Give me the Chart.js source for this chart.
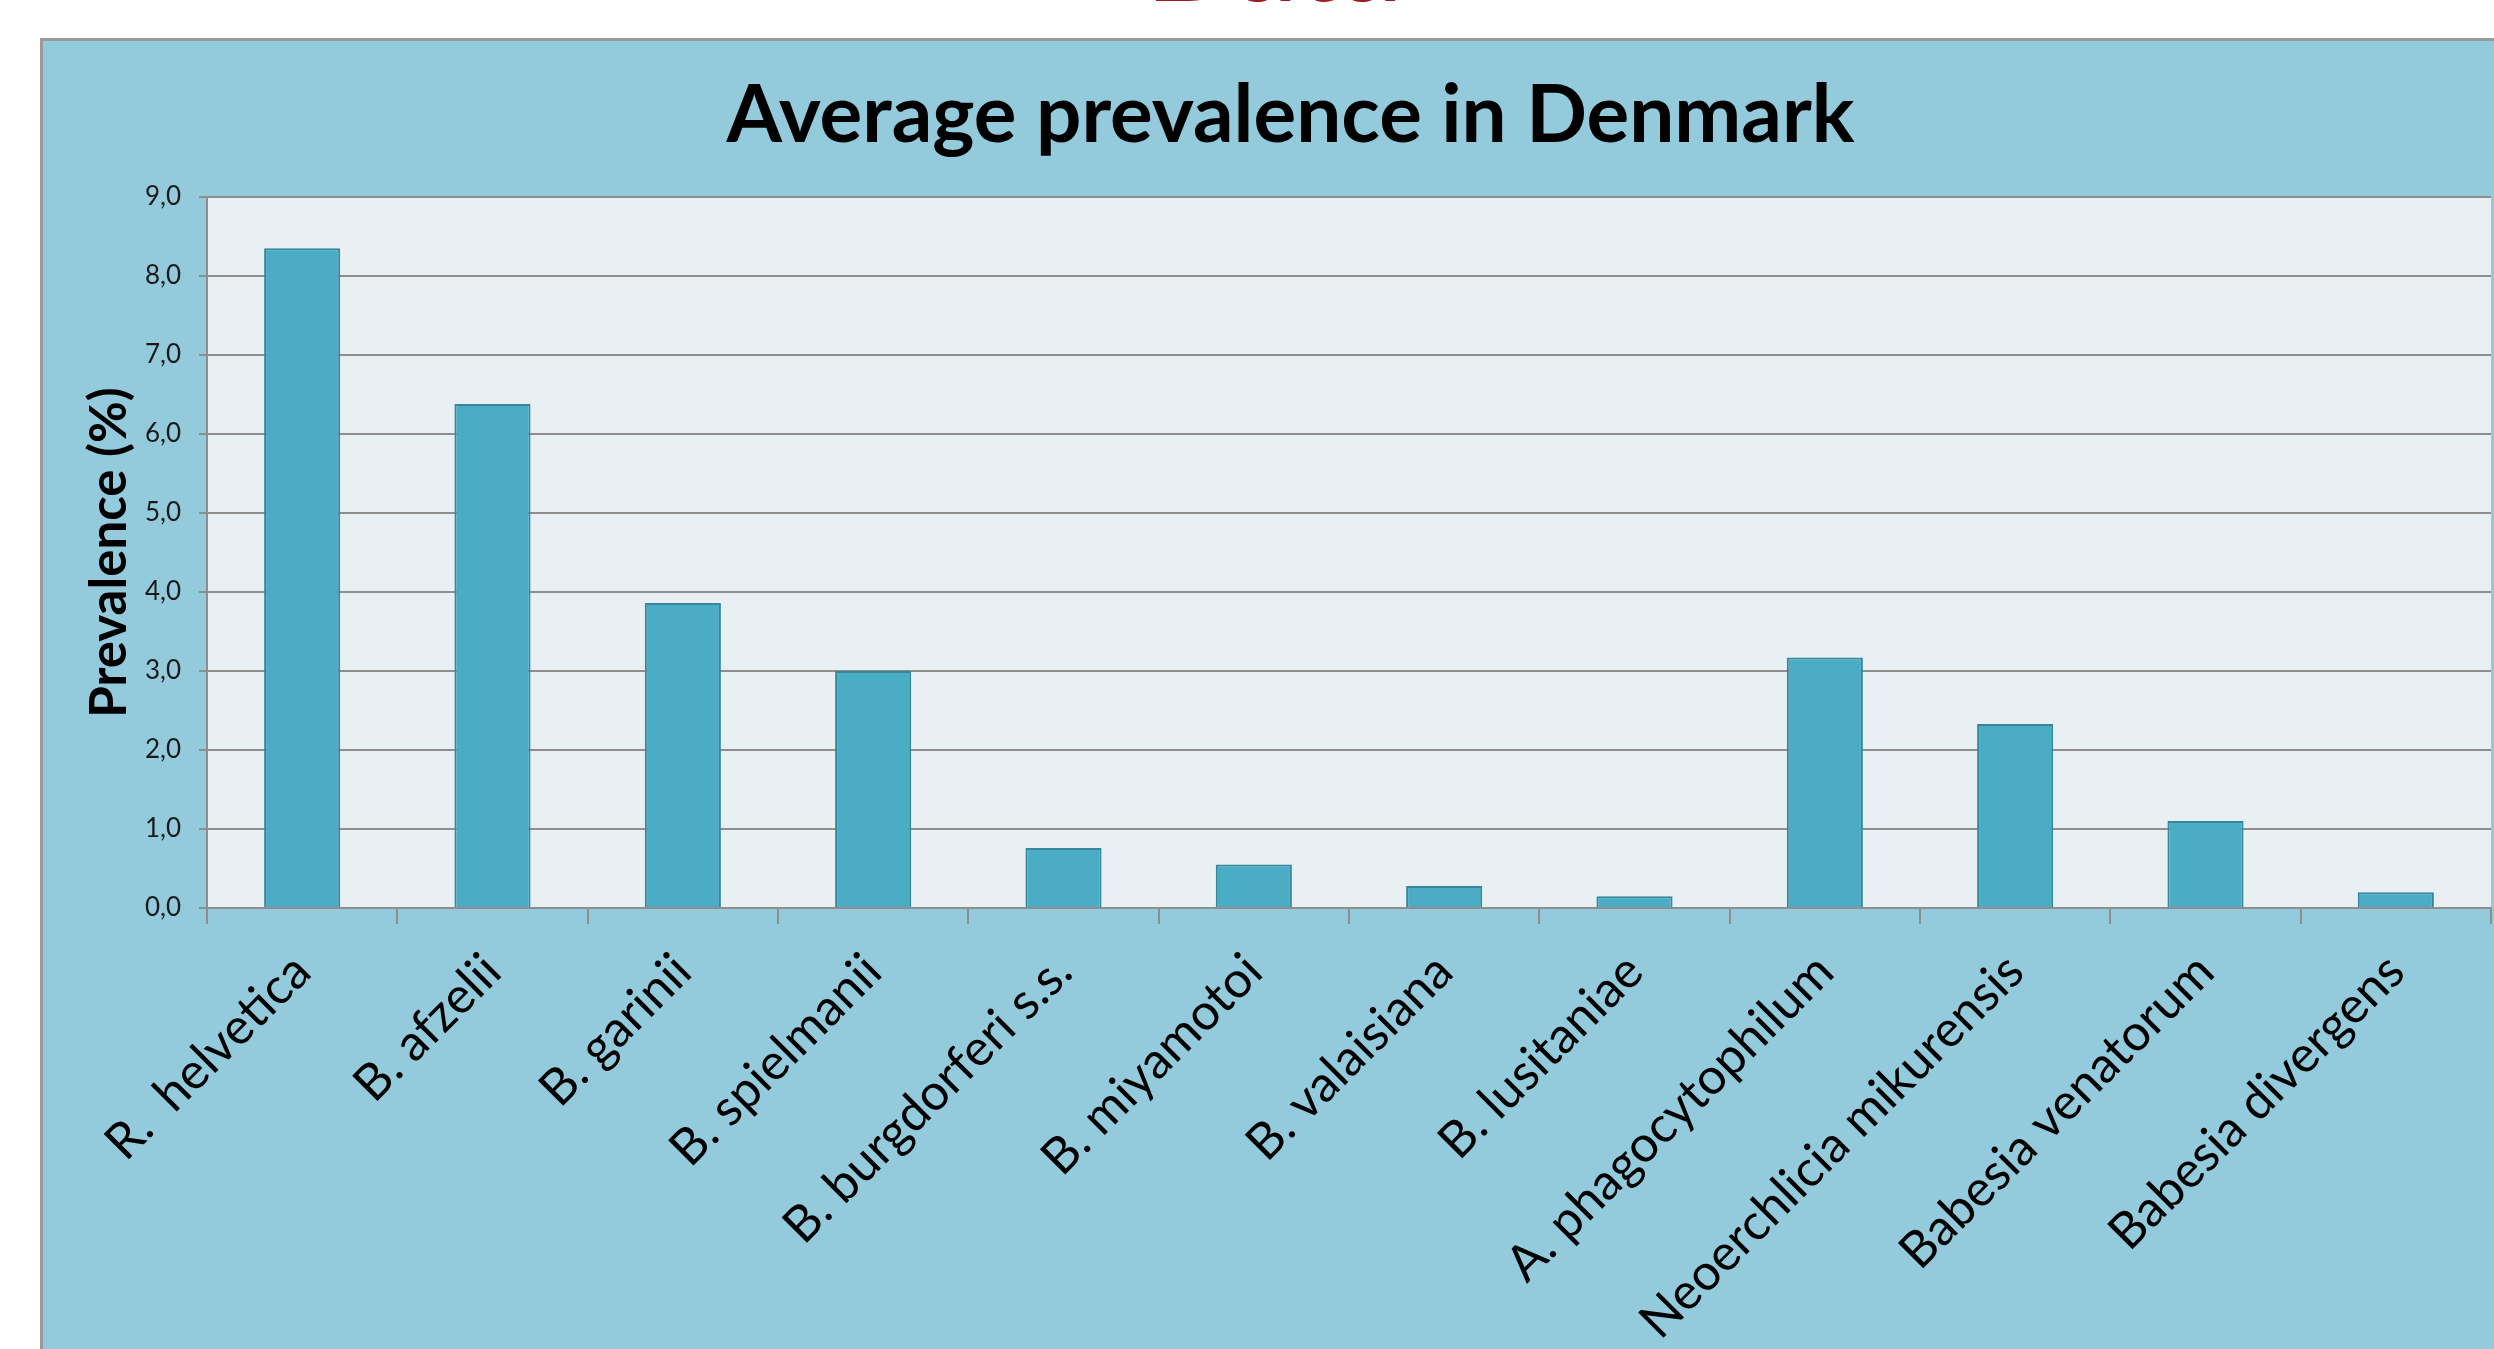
<!DOCTYPE html>
<html>
<head>
<meta charset="utf-8">
<script src="https://cdn.jsdelivr.net/npm/chart.js@4.4.1/dist/chart.umd.min.js"></script>
<style>
  html, body { margin: 0; padding: 0; background: #ffffff; overflow: hidden; }
  #wrap { position: relative; width: 2494px; height: 1349px; }
</style>
</head>
<body>
<div id="wrap"><canvas id="grafico"></canvas></div>
<script>
// Dados
const categorias = [
    'R.  helvetica', 'B. afzelii', 'B. garinii', 'B. spielmanii',
    'B. burgdorferi s.s.', 'B. miyamotoi', 'B. valaisiana', 'B. lusitaniae',
    'A. phagocytophilum', 'Neoerchlicia mikurensis', 'Babesia venatorum', 'Babesia divergens'
];
const prevalencia = [8.35, 6.38, 3.86, 3.0, 0.76, 0.55, 0.28, 0.15, 3.17, 2.33, 1.1, 0.2];
const rotulosY = ['0,0', '1,0', '2,0', '3,0', '4,0', '5,0', '6,0', '7,0', '8,0', '9,0'];

const FONTE = "Lato, 'Open Sans', sans-serif";
const CINZA = '#8e8e8e';

// fundo do slide, painel azul e área do gráfico
const fundoPlugin = {
    id: 'fundo',
    beforeDraw(chart) {
        const ctx = chart.ctx;
        const a = chart.chartArea;
        ctx.save();
        ctx.fillStyle = '#ffffff';
        ctx.fillRect(0, 0, chart.width, chart.height);
        // título do slide cortado no topo
        ctx.fillStyle = '#9e1a20';
        ctx.font = "bold 120px " + FONTE;
        ctx.textAlign = 'center';
        ctx.textBaseline = 'alphabetic';
        ctx.fillText('Data', 1274, 1);
        // painel
        ctx.fillStyle = '#93cbdc';
        ctx.fillRect(40, 40, chart.width - 40, chart.height - 40);
        ctx.strokeStyle = '#9a9a9a';
        ctx.lineWidth = 3;
        ctx.beginPath();
        ctx.moveTo(41.5, chart.height);
        ctx.lineTo(41.5, 39.5);
        ctx.lineTo(chart.width, 39.5);
        ctx.stroke();
        // área de plotagem
        ctx.fillStyle = '#e8f0f4';
        ctx.fillRect(a.left, a.top, a.right - a.left, a.bottom - a.top);
        ctx.restore();
    }
};

function inicializarGrafico() {
    new Chart(document.getElementById('grafico').getContext('2d'), {
        type: 'bar',
        data: {
            labels: categorias,
            datasets: [{
                label: 'Prevalence (%)',
                data: prevalencia,
                backgroundColor: '#4bacc6',
                borderColor: '#37869c',
                borderWidth: 2,
                categoryPercentage: 1.0,
                barPercentage: 0.4
            }]
        },
        options: {
            responsive: true,
            maintainAspectRatio: false,
            animation: false,
            layout: {
                // padding esquerdo maior só para centrar o título como no original
                padding: { left: 90, top: 40, right: 3, bottom: 0 }
            },
            plugins: {
                legend: { display: false },
                tooltip: { enabled: false },
                title: {
                    display: true,
                    text: 'Average prevalence in Denmark',
                    color: '#000000',
                    font: { family: FONTE, size: 80, weight: 'bold' },
                    padding: { top: 28, bottom: 33 }
                }
            },
            scales: {
                y: {
                    min: 0,
                    max: 9,
                    afterFit(scale) { scale.width = 117; },
                    ticks: {
                        stepSize: 1,
                        color: '#1a1a1a',
                        padding: 18,
                        font: { family: FONTE, size: 26 },
                        callback: (v) => rotulosY[Math.round(v)]
                    },
                    grid: {
                        color: CINZA,
                        lineWidth: 2,
                        tickLength: 8
                    },
                    border: { color: CINZA, width: 2 },
                    title: {
                        display: true,
                        text: 'Prevalence (%)',
                        color: '#000000',
                        font: { family: FONTE, size: 51, weight: 'bold', lineHeight: 0.75 },
                        padding: { top: 0, bottom: 0 }
                    }
                },
                x: {
                    afterFit(scale) { scale.height = 441; },
                    ticks: {
                        autoSkip: false,
                        maxRotation: 45,
                        minRotation: 45,
                        color: '#000000',
                        padding: 18,
                        font: { family: FONTE, size: 50 }
                    },
                    grid: {
                        offset: true,
                        drawOnChartArea: false,
                        color: CINZA,
                        lineWidth: 2,
                        tickLength: 16
                    },
                    border: { color: CINZA, width: 2 }
                }
            }
        },
        plugins: [fundoPlugin]
    });
}

inicializarGrafico();
</script>
</body>
</html>
